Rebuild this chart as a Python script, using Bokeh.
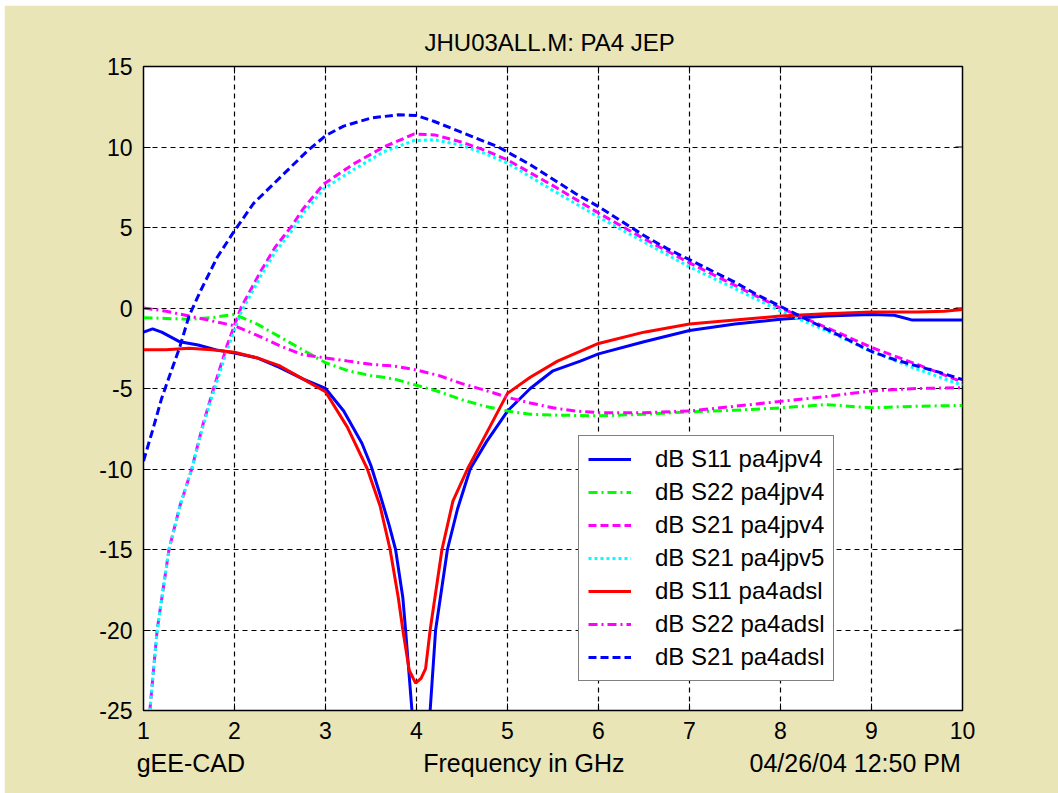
import math
from bokeh.plotting import figure
from bokeh.models import LinearAxis, FixedTicker, Range1d, Legend
from bokeh.embed import file_html
from bokeh.resources import INLINE

# ---------------- data ----------------
x_ticks = [1, 2, 3, 4, 5, 6, 7, 8, 9, 10]
y_ticks = [-25, -20, -15, -10, -5, 0, 5, 10, 15]

title_text = "JHU03ALL.M:  PA4 JEP"
footer_left = "gEE-CAD"
footer_mid = "Frequency in GHz"
footer_right = "04/26/04 12:50 PM"

# dB S11 pa4jpv4 (blue solid)
s11_jpv4_f = [1.0, 1.1, 1.2, 1.4, 1.6, 1.8, 2.0, 2.25, 2.5, 2.75, 3.0, 3.2, 3.4, 3.5, 3.6, 3.7,
              3.77, 3.85, 3.88, 3.95, 4.05, 4.15, 4.21, 4.34, 4.45, 4.59, 4.77, 5.0, 5.25, 5.5,
              5.8, 6.0, 6.5, 7.0, 7.5, 8.0, 8.5, 9.0, 9.25, 9.45, 10.0]
s11_jpv4_db = [-1.5, -1.3, -1.5, -2.1, -2.3, -2.6, -2.8, -3.1, -3.7, -4.4, -5.0, -6.4, -8.4, -9.8,
               -11.6, -13.5, -15.0, -18.0, -20.0, -25.0, -30.0, -25.0, -20.0, -15.0, -12.5, -10.0,
               -8.3, -6.4, -5.0, -3.9, -3.3, -2.85, -2.1, -1.4, -1.0, -0.7, -0.5, -0.4, -0.45,
               -0.75, -0.75]

# dB S22 pa4jpv4 (green dash-dot)
s22_jpv4_f = [1.0, 1.25, 1.5, 1.75, 2.0, 2.25, 2.5, 2.75, 3.0, 3.25, 3.5, 3.75, 4.0, 4.25, 4.5,
              4.75, 5.0, 5.25, 5.5, 6.0, 6.5, 7.0, 7.5, 8.0, 8.5, 9.0, 9.5, 10.0]
s22_jpv4_db = [-0.6, -0.65, -0.7, -0.6, -0.4, -1.0, -1.8, -2.6, -3.4, -3.9, -4.2, -4.4, -4.8, -5.2,
               -5.7, -6.1, -6.4, -6.6, -6.65, -6.7, -6.6, -6.45, -6.35, -6.2, -6.0, -6.2, -6.1, -6.05]

# dB S21 pa4jpv4 (magenta dashed)
s21_jpv4_f = [1.07, 1.15, 1.28, 1.4, 1.53, 1.65, 1.77, 1.92, 2.07, 2.29, 2.45, 2.63, 2.76, 2.98,
              3.31, 3.64, 3.97, 4.2, 4.5, 4.75, 5.0, 5.5, 6.0, 6.5, 7.0, 7.5, 8.0, 8.5, 9.0, 9.5, 10.0]
s21_jpv4_db = [-25.0, -20.0, -15.0, -12.3, -10.0, -7.3, -5.0, -2.3, 0.0, 2.3, 3.8, 5.1, 6.2, 7.7,
               8.95, 10.0, 10.8, 10.75, 10.3, 9.8, 9.2, 7.6, 5.9, 4.3, 2.8, 1.4, 0.0, -1.2, -2.45,
               -3.5, -4.6]

# dB S21 pa4jpv5 (cyan dotted)
s21_jpv5_f = [1.07, 1.15, 1.28, 1.4, 1.53, 1.65, 1.77, 1.92, 2.07, 2.29, 2.45, 2.63, 2.76, 2.98,
              3.31, 3.64, 3.97, 4.2, 4.5, 4.75, 5.0, 5.5, 6.0, 6.5, 7.0, 7.5, 8.0, 8.5, 9.0, 9.5, 10.0]
s21_jpv5_db = [-25.0, -20.0, -15.0, -12.3, -10.0, -7.4, -5.2, -2.6, -0.3, 2.0, 3.5, 4.8, 5.9, 7.4,
               8.6, 9.7, 10.4, 10.45, 10.1, 9.6, 9.0, 7.3, 5.65, 4.1, 2.55, 1.2, -0.2, -1.4, -2.7,
               -3.8, -4.8]

# dB S11 pa4adsl (red solid)
s11_adsl_f = [1.0, 1.25, 1.5, 1.75, 2.0, 2.25, 2.5, 2.75, 3.0, 3.24, 3.46, 3.6, 3.71, 3.8, 3.85,
              3.92, 3.99, 4.05, 4.1, 4.15, 4.28, 4.4, 4.56, 4.72, 5.0, 5.25, 5.55, 6.0, 6.5, 7.0,
              7.5, 8.0, 8.5, 9.0, 9.5, 9.8, 10.0]
s11_adsl_db = [-2.6, -2.6, -2.5, -2.6, -2.75, -3.1, -3.6, -4.4, -5.2, -7.4, -10.0, -12.3, -15.0,
               -18.0, -20.0, -22.5, -23.3, -23.0, -22.4, -20.0, -15.0, -12.0, -10.0, -8.3, -5.3,
               -4.3, -3.3, -2.2, -1.5, -1.0, -0.75, -0.5, -0.35, -0.25, -0.25, -0.2, -0.1]

# dB S22 pa4adsl (magenta dash-dot)
s22_adsl_f = [1.0, 1.25, 1.5, 1.75, 2.0, 2.25, 2.5, 2.75, 3.0, 3.25, 3.5, 3.75, 4.0, 4.25, 4.5,
              4.75, 5.0, 5.25, 5.5, 5.75, 6.0, 6.5, 7.0, 7.5, 8.0, 8.5, 9.0, 9.5, 10.0]
s22_adsl_db = [0.0, -0.2, -0.5, -0.8, -1.1, -1.7, -2.35, -2.9, -3.1, -3.3, -3.5, -3.6, -3.85, -4.2,
               -4.7, -5.1, -5.55, -5.9, -6.2, -6.4, -6.5, -6.5, -6.4, -6.1, -5.8, -5.5, -5.15,
               -5.0, -4.95]

# dB S21 pa4adsl (blue dashed)
s21_adsl_f = [1.0, 1.1, 1.2, 1.3, 1.4, 1.5, 1.63, 1.81, 2.0, 2.21, 2.5, 2.8, 3.0, 3.2, 3.5, 3.8,
              4.0, 4.19, 4.5, 4.9, 5.25, 5.5, 5.75, 6.0, 6.25, 6.5, 6.75, 7.0, 7.25, 7.5, 7.75,
              8.0, 8.25, 8.5, 8.75, 9.0, 9.25, 9.5, 9.75, 10.0]
s21_adsl_db = [-9.5, -7.6, -5.6, -4.0, -2.4, -0.5, 1.1, 3.15, 4.8, 6.5, 8.1, 9.75, 10.7, 11.3,
               11.8, 12.0, 11.95, 11.6, 10.9, 10.0, 8.9, 8.0, 7.1, 6.3, 5.4, 4.5, 3.7, 3.0, 2.3,
               1.6, 0.8, 0.1, -0.6, -1.3, -2.0, -2.7, -3.2, -3.6, -4.0, -4.45]

# ---------------- styling ----------------
FONT = "Liberation Sans"
FS_TICK = "23px"
FS = "24px"
FS_FOOT = "25px"
BEIGE = "#E9E5B6"

x0, x1 = x_ticks[0], x_ticks[-1]
y0, y1 = y_ticks[0], y_ticks[-1]

p = figure(width=1054, height=788, output_backend="svg", toolbar_location=None,
           x_range=Range1d(x0, x1), y_range=Range1d(y0, y1),
           min_border_left=139, min_border_right=96, min_border_top=61, min_border_bottom=83)
p.margin = (5, 0, 0, 4)
p.border_fill_color = BEIGE
p.background_fill_color = "white"
p.outline_line_color = "black"
p.outline_line_width = 1.5

p.title.text = title_text
p.title.align = "center"
p.title.text_font = FONT
p.title.text_font_size = FS
p.title.text_font_style = "normal"
p.title.text_color = "black"
p.title.standoff = 21

def style_axis(ax, ticks):
    ax.ticker = FixedTicker(ticks=ticks)
    ax.major_tick_in = 7
    ax.major_tick_out = 0
    ax.minor_tick_in = 0
    ax.minor_tick_out = 0
    ax.axis_line_color = "black"
    ax.major_tick_line_color = "black"
    ax.major_label_text_font = FONT
    ax.major_label_text_color = "black"
    ax.major_label_overrides = {t: str(t) for t in ticks}
    ax.major_label_text_font_size = FS_TICK
    ax.major_label_standoff = 11

style_axis(p.xaxis[0], x_ticks)
style_axis(p.yaxis[0], y_ticks)
p.yaxis[0].major_label_standoff = 11

# inward tick marks on the top and right edges (half of each dash is clipped)
p.scatter(x_ticks, [y1] * len(x_ticks), marker="dash", angle=math.pi / 2, size=14,
          line_color="black", line_width=1)
p.scatter([x1] * len(y_ticks), y_ticks, marker="dash", size=14,
          line_color="black", line_width=1)

# footer line: three texts laid out as an extra axis below the frame
foot_pos = [1.52, 5.18, 8.82]
foot_ax = LinearAxis(ticker=FixedTicker(ticks=foot_pos))
foot_ax.major_label_overrides = {foot_pos[0]: footer_left, foot_pos[1]: footer_mid,
                                 foot_pos[2]: footer_right}
foot_ax.axis_line_color = None
foot_ax.major_tick_line_color = None
foot_ax.minor_tick_line_color = None
foot_ax.major_label_text_font = FONT
foot_ax.major_label_text_font_size = FS_FOOT
foot_ax.major_label_text_color = "black"
foot_ax.major_label_standoff = 1
p.add_layout(foot_ax, "below")

p.grid.grid_line_color = "black"
p.grid.grid_line_dash = "5 4"
p.grid.grid_line_width = 1.2
p.xgrid.ticker = FixedTicker(ticks=x_ticks)
p.ygrid.ticker = FixedTicker(ticks=y_ticks)

LW = 3
r1 = p.line(s11_jpv4_f, s11_jpv4_db, line_color="#0000FF", line_width=LW)
r2 = p.line(s22_jpv4_f, s22_jpv4_db, line_color="#00FF00", line_width=LW, line_dash="9 4 2 4")
r3 = p.line(s21_jpv4_f, s21_jpv4_db, line_color="#FF00FF", line_width=LW, line_dash="8 4")
r4 = p.line(s21_jpv5_f, s21_jpv5_db, line_color="#00FFFF", line_width=LW, line_dash="3 3")
r5 = p.line(s11_adsl_f, s11_adsl_db, line_color="#FF0000", line_width=LW)
r6 = p.line(s22_adsl_f, s22_adsl_db, line_color="#FF00FF", line_width=LW, line_dash="9 4 2 4")
r7 = p.line(s21_adsl_f, s21_adsl_db, line_color="#0000FF", line_width=LW, line_dash="8 4")

legend = Legend(items=[("dB S11 pa4jpv4", [r1]), ("dB S22 pa4jpv4", [r2]),
                       ("dB S21 pa4jpv4", [r3]), ("dB S21 pa4jpv5", [r4]),
                       ("dB S11 pa4adsl", [r5]), ("dB S22 pa4adsl", [r6]),
                       ("dB S21 pa4adsl", [r7])],
                location=(435, 29))
legend.label_text_font = FONT
legend.label_text_font_size = FS
legend.label_text_color = "black"
legend.glyph_width = 43
legend.glyph_height = 24
legend.label_height = 24
legend.label_standoff = 24
legend.spacing = 5
legend.padding = 9
legend.margin = 0
legend.border_line_color = "black"
legend.border_line_width = 1.5
legend.background_fill_color = "white"
legend.background_fill_alpha = 1.0
p.add_layout(legend, "center")

open("out.html", "w").write(file_html(p, INLINE))
